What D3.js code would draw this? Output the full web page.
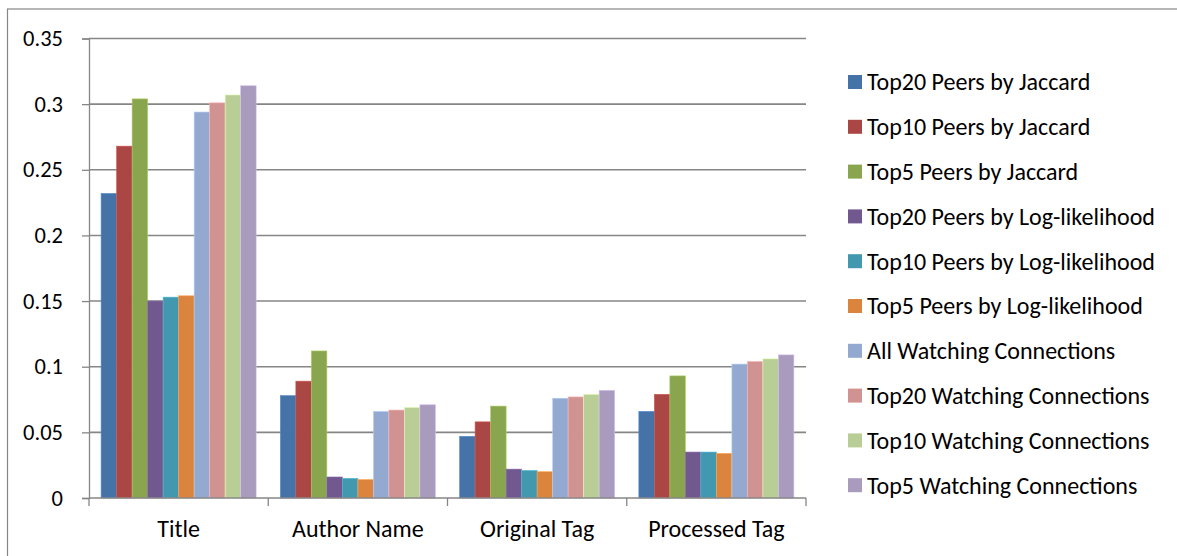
<!DOCTYPE html>
<html>
<head>
<meta charset="utf-8">
<script src="https://cdn.jsdelivr.net/npm/d3@7"></script>
<style>
  html, body { margin: 0; padding: 0; background: #fff; }
  svg { display: block; }
  text { font-family: Carlito, Calibri, Lato, "Open Sans", sans-serif; fill: #000; }
</style>
</head>
<body>
<svg id="chart" width="1177" height="556"></svg>
<script>
const categories = ["Title", "Author Name", "Original Tag", "Processed Tag"];
const seriesNames = [
  "Top20 Peers by Jaccard",
  "Top10 Peers by Jaccard",
  "Top5 Peers by Jaccard",
  "Top20 Peers by Log-likelihood",
  "Top10 Peers by Log-likelihood",
  "Top5 Peers by Log-likelihood",
  "All Watching Connections",
  "Top20 Watching Connections",
  "Top10 Watching Connections",
  "Top5 Watching Connections"
];
const seriesColors = ["#4572A7", "#AA4643", "#89A54E", "#71588F", "#4198AF",
                      "#DB843D", "#93A9CF", "#D19392", "#B9CD96", "#A99BBD"];
// values per series, in category order
const top20Jaccard = [0.232, 0.078, 0.047, 0.066];
const top10Jaccard = [0.268, 0.089, 0.058, 0.079];
const top5Jaccard  = [0.304, 0.112, 0.070, 0.093];
const top20LogLik  = [0.150, 0.016, 0.022, 0.035];
const top10LogLik  = [0.153, 0.015, 0.021, 0.035];
const top5LogLik   = [0.154, 0.014, 0.020, 0.034];
const allWatching  = [0.294, 0.066, 0.076, 0.102];
const top20Watching = [0.301, 0.067, 0.077, 0.104];
const top10Watching = [0.307, 0.069, 0.079, 0.106];
const top5Watching  = [0.314, 0.071, 0.082, 0.109];
const yTicks = [0, 0.05, 0.1, 0.15, 0.2, 0.25, 0.3, 0.35];
const yTickLabels = ["0", "0.05", "0.1", "0.15", "0.2", "0.25", "0.3", "0.35"];

const seriesValues = [top20Jaccard, top10Jaccard, top5Jaccard, top20LogLik, top10LogLik,
  top5LogLik, allWatching, top20Watching, top10Watching, top5Watching];

const svg = d3.select("#chart");
const W = 1177, H = 556;
const plot = { left: 89, right: 806, top: 38.5, bottom: 498 };
const FONT = 24;
const YFONT = 22.5;
const axisColor = "#868686";

// outer border (chart area frame)
svg.append("rect").attr("x", 7.5).attr("y", 9).attr("width", W + 20).attr("height", H + 20)
  .attr("fill", "none").attr("stroke", axisColor).attr("stroke-width", 1.2);

const y = d3.scaleLinear().domain([0, 0.35]).range([plot.bottom, plot.top]);
const x0 = d3.scaleBand().domain(categories).range([plot.left, plot.right]).padding(0);
const gapFrac = 0.0675;
const x1 = d3.scaleBand().domain(seriesNames)
  .range([x0.bandwidth() * gapFrac, x0.bandwidth() * (1 - gapFrac)]).padding(0);

// gridlines
svg.append("g").selectAll("line").data(yTicks.filter(d => d > 0)).join("line")
  .attr("x1", plot.left).attr("x2", plot.right)
  .attr("y1", d => y(d)).attr("y2", d => y(d))
  .attr("stroke", axisColor).attr("stroke-width", 1.6);

// bars
const gCat = svg.append("g").selectAll("g").data(categories).join("g")
  .attr("transform", d => `translate(${x0(d)},0)`);
gCat.selectAll("rect")
  .data((c, ci) => seriesNames.map((s, si) => ({ s, si, v: seriesValues[si][ci] })))
  .join("rect")
  .attr("x", d => x1(d.s))
  .attr("width", x1.bandwidth())
  .attr("y", d => y(d.v))
  .attr("height", d => y(0) - y(d.v))
  .attr("fill", d => seriesColors[d.si])
  .attr("stroke", d => d3.color(seriesColors[d.si]).brighter(0.6))
  .attr("stroke-width", 0.6);

// y axis
const yAxis = d3.axisLeft(y).tickValues(yTicks).tickSize(7).tickPadding(19)
  .tickFormat((d, i) => yTickLabels[i]);
const gy = svg.append("g").attr("transform", `translate(${plot.left},0)`).call(yAxis);
gy.select(".domain").attr("stroke", axisColor).attr("stroke-width", 1.3);
gy.selectAll(".tick line").attr("stroke", axisColor).attr("stroke-width", 1.3);
gy.selectAll(".tick text").style("font-size", YFONT + "px").attr("fill", "#000")
  .style("font-family", "Carlito, Calibri, Lato, sans-serif");

// x axis
const gx = svg.append("g").attr("transform", `translate(0,${plot.bottom})`);
gx.append("line").attr("x1", plot.left).attr("x2", plot.right).attr("y1", 0).attr("y2", 0)
  .attr("stroke", axisColor).attr("stroke-width", 1.3);
const boundaries = categories.map(c => x0(c)).concat([x0(categories[categories.length - 1]) + x0.bandwidth()]);
gx.selectAll("line.tk").data(boundaries).join("line").attr("class", "tk")
  .attr("x1", d => d).attr("x2", d => d).attr("y1", 0).attr("y2", 8)
  .attr("stroke", axisColor).attr("stroke-width", 1.3);
gx.selectAll("text").data(categories).join("text")
  .attr("x", d => x0(d) + x0.bandwidth() / 2).attr("y", 39)
  .attr("text-anchor", "middle").style("font-size", FONT + "px").text(d => d);

// legend
const legend = svg.append("g");
const legTop = 82, legStep = 44.8;
const li = legend.selectAll("g").data(seriesNames).join("g")
  .attr("transform", (d, i) => `translate(848,${legTop + i * legStep})`);
li.append("rect").attr("x", 0).attr("y", -7).attr("width", 14).attr("height", 14)
  .attr("fill", (d, i) => seriesColors[i]);
li.append("text").attr("x", 19).attr("y", 0).attr("dy", "0.35em")
  .style("font-size", FONT + "px").text(d => d);
</script>
</body>
</html>
